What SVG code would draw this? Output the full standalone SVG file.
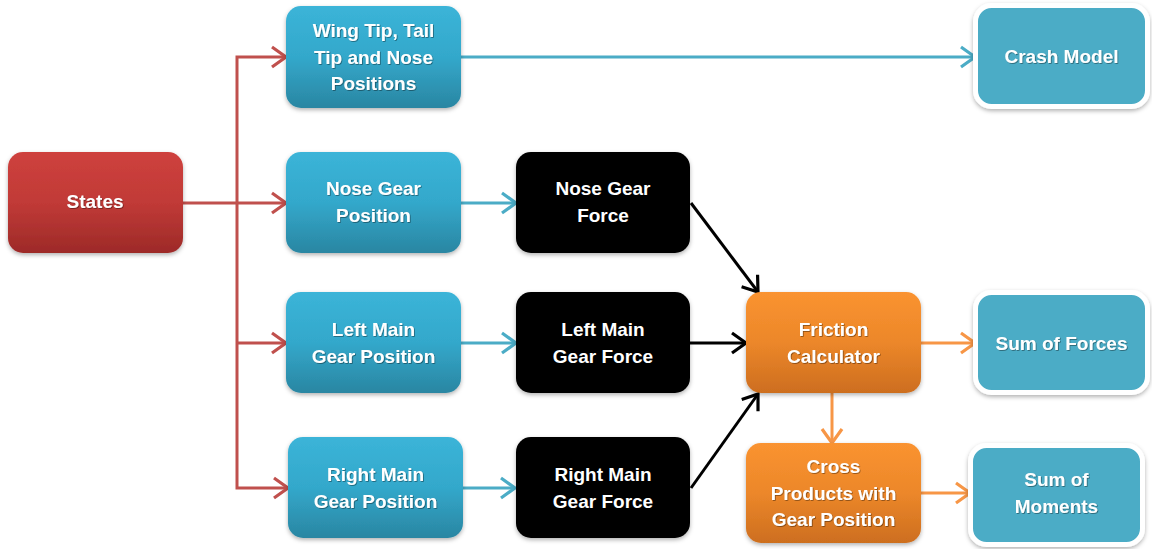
<svg xmlns="http://www.w3.org/2000/svg" width="1152" height="549" viewBox="0 0 1152 549">
  <defs>
    <linearGradient id="g-blue" x1="0" y1="0" x2="0" y2="1">
      <stop offset="0" stop-color="#3bb4d8"/>
      <stop offset="0.5" stop-color="#33a8cb"/>
      <stop offset="1" stop-color="#2a86a2"/>
    </linearGradient>
    <linearGradient id="g-red" x1="0" y1="0" x2="0" y2="1">
      <stop offset="0" stop-color="#ce413d"/>
      <stop offset="0.5" stop-color="#c13a37"/>
      <stop offset="1" stop-color="#9d2a28"/>
    </linearGradient>
    <linearGradient id="g-orange" x1="0" y1="0" x2="0" y2="1">
      <stop offset="0" stop-color="#fa9330"/>
      <stop offset="0.5" stop-color="#ec872a"/>
      <stop offset="1" stop-color="#cd6e1f"/>
    </linearGradient>
    <filter id="shadow" x="-10%" y="-10%" width="125%" height="130%">
      <feDropShadow dx="0" dy="2" stdDeviation="2" flood-color="#000" flood-opacity="0.3"/>
    </filter>
    <filter id="txt" x="-10%" y="-30%" width="125%" height="160%">
      <feDropShadow dx="0.8" dy="0.8" stdDeviation="0.7" flood-color="#000" flood-opacity="0.45"/>
    </filter>
    <marker id="ah-red" markerUnits="userSpaceOnUse" markerWidth="20" markerHeight="24" refX="16" refY="12" orient="auto">
      <path d="M2,2 L16,12 L2,22" fill="none" stroke="#c0504d" stroke-width="3.2"/>
    </marker>
    <marker id="ah-blue" markerUnits="userSpaceOnUse" markerWidth="20" markerHeight="24" refX="16" refY="12" orient="auto">
      <path d="M2,2 L16,12 L2,22" fill="none" stroke="#4bacc6" stroke-width="3.2"/>
    </marker>
    <marker id="ah-black" markerUnits="userSpaceOnUse" markerWidth="20" markerHeight="24" refX="16" refY="12" orient="auto">
      <path d="M2,2 L16,12 L2,22" fill="none" stroke="#000" stroke-width="3.2"/>
    </marker>
    <marker id="ah-orange" markerUnits="userSpaceOnUse" markerWidth="20" markerHeight="24" refX="16" refY="12" orient="auto">
      <path d="M2,2 L16,12 L2,22" fill="none" stroke="#f79646" stroke-width="3.2"/>
    </marker>
  </defs>
  <style>
    .box { filter: url(#shadow); }
    .blue { fill: url(#g-blue); }
    .red { fill: url(#g-red); }
    .orange { fill: url(#g-orange); }
    .black { fill: #000; }
    .out { fill: #4bacc6; stroke: #fff; stroke-width: 5; }
    text { font-family: "Liberation Sans", Arial, sans-serif; font-weight: bold; font-size: 19px; fill: #fff; text-anchor: middle; }
    .t { filter: url(#txt); }
    .c { fill: none; stroke-width: 3; }
    .c-red { stroke: #c0504d; marker-end: url(#ah-red); }
    .c-blue { stroke: #4bacc6; marker-end: url(#ah-blue); }
    .c-black { stroke: #000; marker-end: url(#ah-black); }
    .c-orange { stroke: #f79646; marker-end: url(#ah-orange); }
  </style>

  <rect width="1152" height="549" fill="#fff"/>

  <!-- connectors -->
  <g id="connectors">
    <path class="c c-red" d="M182,203 H286"/>
    <path class="c c-red" d="M237,343 V57 H286"/>
    <path class="c c-red" d="M237,343 H286"/>
    <path class="c c-red" d="M237,343 V488 H288"/>
    <path class="c c-blue" d="M461,57 H975"/>
    <path class="c c-blue" d="M461,203 H516"/>
    <path class="c c-blue" d="M461,343 H516"/>
    <path class="c c-blue" d="M463,488 H515"/>
    <path class="c c-black" d="M691,203 L758,292"/>
    <path class="c c-black" d="M690,343 H746"/>
    <path class="c c-black" d="M691,488 L758,394"/>
    <path class="c c-orange" d="M921,343 H975"/>
    <path class="c c-orange" d="M832,393 V443"/>
    <path class="c c-orange" d="M921,493 H970"/>
  </g>

  <!-- nodes -->
  <g id="states">
    <rect class="box red" x="8" y="152" width="175" height="101" rx="15"/>
    <text class="t" x="95" y="208">States</text>
  </g>

  <g id="wing-tip-positions">
    <rect class="box blue" x="286" y="6" width="175" height="102" rx="15"/>
    <text class="t" x="373.5" y="37">Wing Tip, Tail</text>
    <text class="t" x="373.5" y="64">Tip and Nose</text>
    <text class="t" x="373.5" y="90">Positions</text>
  </g>

  <g id="nose-gear-position">
    <rect class="box blue" x="286" y="152" width="175" height="101" rx="15"/>
    <text class="t" x="373.5" y="195">Nose Gear</text>
    <text class="t" x="373.5" y="222">Position</text>
  </g>

  <g id="left-main-gear-position">
    <rect class="box blue" x="286" y="292" width="175" height="101" rx="15"/>
    <text class="t" x="373.5" y="336">Left Main</text>
    <text class="t" x="373.5" y="363">Gear Position</text>
  </g>

  <g id="right-main-gear-position">
    <rect class="box blue" x="288" y="437" width="175" height="101" rx="15"/>
    <text class="t" x="375.5" y="481">Right Main</text>
    <text class="t" x="375.5" y="508">Gear Position</text>
  </g>

  <g id="nose-gear-force">
    <rect class="box black" x="516" y="152" width="174" height="101" rx="15"/>
    <text x="603" y="195">Nose Gear</text>
    <text x="603" y="222">Force</text>
  </g>

  <g id="left-main-gear-force">
    <rect class="box black" x="516" y="292" width="174" height="101" rx="15"/>
    <text x="603" y="336">Left Main</text>
    <text x="603" y="363">Gear Force</text>
  </g>

  <g id="right-main-gear-force">
    <rect class="box black" x="516" y="437" width="174" height="101" rx="15"/>
    <text x="603" y="481">Right Main</text>
    <text x="603" y="508">Gear Force</text>
  </g>

  <g id="friction-calculator">
    <rect class="box orange" x="746" y="292" width="175" height="101" rx="15"/>
    <text class="t" x="833.5" y="336">Friction</text>
    <text class="t" x="833.5" y="363">Calculator</text>
  </g>

  <g id="cross-products">
    <rect class="box orange" x="746" y="443" width="175" height="100" rx="15"/>
    <text class="t" x="833.5" y="473">Cross</text>
    <text class="t" x="833.5" y="500">Products with</text>
    <text class="t" x="833.5" y="526">Gear Position</text>
  </g>

  <g id="crash-model">
    <rect class="box out" x="975.5" y="5.5" width="172" height="101" rx="16"/>
    <text class="t" x="1061.5" y="63">Crash Model</text>
  </g>

  <g id="sum-of-forces">
    <rect class="box out" x="975.5" y="292.5" width="172" height="100" rx="16"/>
    <text class="t" x="1061.5" y="350">Sum of Forces</text>
  </g>

  <g id="sum-of-moments">
    <rect class="box out" x="970.5" y="445.5" width="172" height="99" rx="16"/>
    <text class="t" x="1056.5" y="486">Sum of</text>
    <text class="t" x="1056.5" y="513">Moments</text>
  </g>
</svg>
